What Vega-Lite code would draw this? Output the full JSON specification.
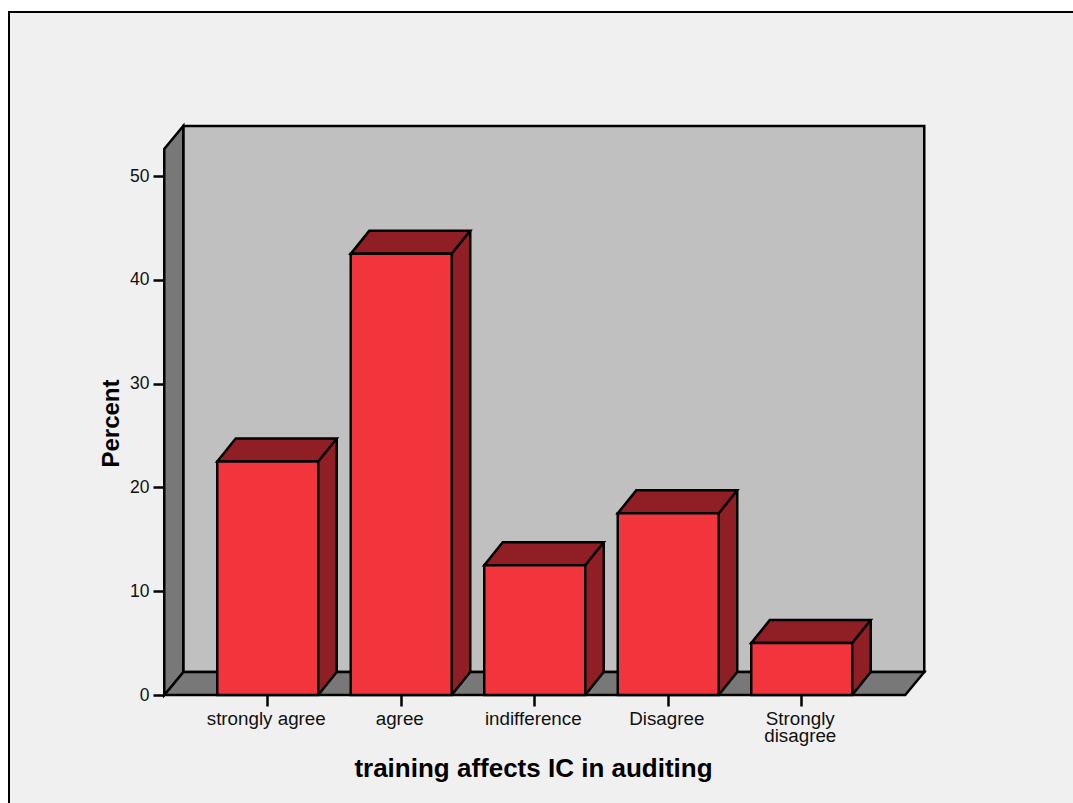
{
  "$schema": "https://vega.github.io/schema/vega-lite/v6.json",
  "autosize": {"type": "none"},
  "padding": {"left": 9, "top": 12, "right": -4, "bottom": -4},
  "width": 1068,
  "height": 795,
  "background": "#ffffff",
  "view": {"fill": "#f0f0f0", "stroke": "#000000", "strokeWidth": 2},
  "data": {
    "values": [
      {"response": "strongly agree", "percent": 22.5},
      {"response": "agree", "percent": 42.5},
      {"response": "indifference", "percent": 12.5},
      {"response": "Disagree", "percent": 17.5},
      {"response": "Strongly disagree", "percent": 5}
    ]
  },
  "encoding": {
    "x": {
      "field": "response",
      "type": "nominal",
      "title": "training affects IC in auditing",
      "scale": {
        "domain": ["strongly agree", "agree", "indifference", "Disagree", "Strongly disagree"],
        "range": [192, 859.5],
        "paddingInner": 0,
        "paddingOuter": 0
      },
      "axis": {
        "orient": "bottom",
        "offset": -112,
        "domain": false,
        "grid": false,
        "ticks": true,
        "tickSize": 11,
        "tickWidth": 2.5,
        "tickColor": "#000000",
        "labelAngle": 0,
        "labelFont": "Liberation Sans",
        "labelFontSize": 18.8,
        "labelColor": "#111111",
        "labelPadding": 3,
        "labelOffset": -1.5,
        "labelLineHeight": 17,
        "labelOverlap": false,
        "labelBound": false,
        "labelFlush": false,
        "labelExpr": "datum.label == 'Strongly disagree' ? ['Strongly', 'disagree'] : datum.label",
        "titleFont": "Liberation Sans",
        "titleFontSize": 26,
        "titleFontWeight": "bold",
        "titleColor": "#000000",
        "titleX": 524,
        "titleY": 81,
        "titleAlign": "center",
        "titleBaseline": "alphabetic"
      }
    },
    "y": {
      "field": "percent",
      "type": "quantitative",
      "title": "Percent",
      "scale": {"domain": [0, 50], "range": [683, 164], "nice": false, "zero": false},
      "axis": {
        "orient": "left",
        "offset": -155,
        "values": [0, 10, 20, 30, 40, 50],
        "domain": false,
        "grid": false,
        "tickSize": 11,
        "tickWidth": 2.5,
        "tickColor": "#000000",
        "labelFont": "Liberation Sans",
        "labelFontSize": 17.5,
        "labelColor": "#111111",
        "labelPadding": 4,
        "titleFont": "Liberation Sans",
        "titleFontSize": 24,
        "titleFontWeight": "bold",
        "titleColor": "#000000",
        "titleAngle": -90,
        "titleX": -46,
        "titleY": 411,
        "titleAlign": "center",
        "titleBaseline": "alphabetic"
      }
    }
  },
  "layer": [
    {
      "description": "Back wall of the 3D chart box",
      "transform": [{"filter": "datum.response == 'strongly agree'"}],
      "mark": {"type": "point", "filled": true, "opacity": 1, "size": 4, "fill": "#c0c0c0", "stroke": "#000000", "strokeWidth": 2.5,
        "shape": "M-84.5 -23 L656.5 -23 L656.5 -569 L-84.5 -569 Z"},
      "encoding": {"y": {"datum": 0}}
    },
    {
      "description": "Floor of the 3D chart box",
      "transform": [{"filter": "datum.response == 'strongly agree'"}],
      "mark": {"type": "point", "filled": true, "opacity": 1, "size": 4, "fill": "#787878", "stroke": "#000000", "strokeWidth": 2.5,
        "shape": "M-103.5 0 L-84.5 -23 L656.5 -23 L637.5 0 Z"},
      "encoding": {"y": {"datum": 0}}
    },
    {
      "description": "Left wall of the 3D chart box",
      "transform": [{"filter": "datum.response == 'strongly agree'"}],
      "mark": {"type": "point", "filled": true, "opacity": 1, "size": 4, "fill": "#787878", "stroke": "#000000", "strokeWidth": 2.5,
        "shape": "M-103.5 0 L-103.5 -546 L-84.5 -569 L-84.5 -23 Z"},
      "encoding": {"y": {"datum": 0}}
    },
    {
      "description": "Right side face of each bar",
      "mark": {"type": "rule", "stroke": "#8f1f24", "strokeWidth": 18.5, "xOffset": 59.75, "yOffset": -23, "y2Offset": -23},
      "encoding": {"y2": {"datum": 0}}
    },
    {
      "description": "Lower corner of the side face",
      "mark": {"type": "point", "filled": true, "opacity": 1, "size": 4, "fill": "#8f1f24", "strokeWidth": 0,
        "shape": "M50.5 0 L69 -23 L50.5 -23 Z"},
      "encoding": {"y": {"datum": 0}}
    },
    {
      "description": "Rear vertical edge of each bar",
      "mark": {"type": "rule", "stroke": "#000000", "strokeWidth": 2.5, "xOffset": 69, "yOffset": -23, "y2Offset": -23},
      "encoding": {"y2": {"datum": 0}}
    },
    {
      "description": "Bottom edge of the side face",
      "mark": {"type": "point", "filled": false, "opacity": 1, "size": 4, "stroke": "#000000", "strokeWidth": 2.5,
        "shape": "M50.5 0 L69 -23"},
      "encoding": {"y": {"datum": 0}}
    },
    {
      "description": "Top face of each bar",
      "mark": {"type": "point", "filled": true, "opacity": 1, "size": 4, "fill": "#8f1f24", "stroke": "#000000", "strokeWidth": 2.5,
        "shape": "M-50.5 0 L50.5 0 L69 -23 L-32 -23 Z"}
    },
    {
      "description": "Front face of each bar",
      "mark": {"type": "bar", "width": 101, "fill": "#f2353c", "stroke": "#000000", "strokeWidth": 2.5},
      "encoding": {"y2": {"datum": 0}}
    }
  ]
}
